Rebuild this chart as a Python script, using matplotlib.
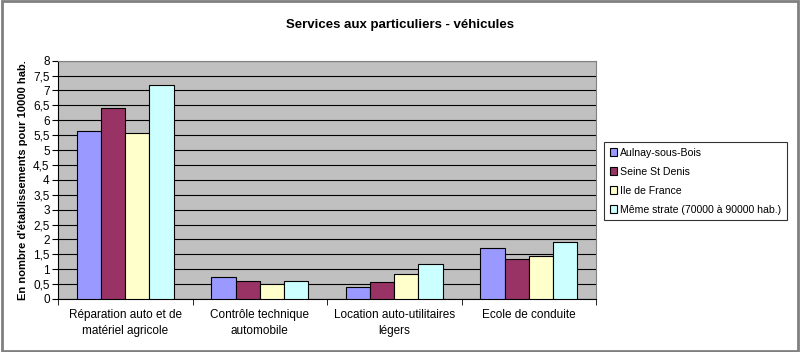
import matplotlib
matplotlib.use("Agg")
import matplotlib.pyplot as plt
from matplotlib.patches import Rectangle
import numpy as np

categories = ["Réparation auto et de\nmatériel agricole", "Contrôle technique\nautomobile",
              "Location auto-utilitaires\nlégers", "Ecole de conduite"]
series_names = ["Aulnay-sous-Bois", "Seine St Denis", "Ile de France", "Même strate (70000 à 90000 hab.)"]
aulnay = [5.64, 0.75, 0.39, 1.72]
seine = [6.42, 0.60, 0.57, 1.33]
idf = [5.58, 0.49, 0.85, 1.44]
meme = [7.20, 0.60, 1.18, 1.90]
colors = ["#9999FF", "#993366", "#FFFFCC", "#CCFFFF"]
yticks = [0, 0.5, 1, 1.5, 2, 2.5, 3, 3.5, 4, 4.5, 5, 5.5, 6, 6.5, 7, 7.5, 8]

plt.rcParams['font.family'] = ['Liberation Sans', 'DejaVu Sans']
fig = plt.figure(figsize=(8, 3.52), dpi=100)
fig.patches.append(Rectangle((0.003, 0.003), 0.994, 0.994, transform=fig.transFigure,
                             fill=False, edgecolor="#808080", linewidth=2))
ax = fig.add_axes([0.0725, 0.1506, 0.6725, 0.677])
ax.set_facecolor("#C0C0C0")
x = np.arange(len(categories))
w = 0.18
for i, (vals, c, n) in enumerate(zip([aulnay, seine, idf, meme], colors, series_names)):
    ax.bar(x + (i - 1.5) * w, vals, w, color=c, edgecolor="black", linewidth=0.8, label=n, zorder=3)
ax.set_xlim(-0.5, 3.5)
ax.set_ylim(0, 8)
ax.set_yticks(yticks)
ax.set_yticklabels([("%g" % v).replace(".", ",") for v in yticks], fontsize=8.5)
ax.yaxis.grid(True, color="black", linewidth=0.8, zorder=0)
ax.set_axisbelow(True)
ax.set_xticks(x)
ax.set_xticklabels(categories, fontsize=8.5, linespacing=1.45)
ax.set_xticks(np.arange(-0.5, 4, 1), minor=True)
ax.tick_params(axis='x', which='major', length=0, pad=7)
ax.tick_params(axis='x', which='minor', length=4)
ax.tick_params(axis='y', length=4, pad=2)
for s in ["top", "right"]:
    ax.spines[s].set_color("#808080")
ax.set_ylabel("En nombre d'établissements pour 10000 hab.", fontsize=8, fontweight="bold")
fig.text(0.5, 0.93, "Services aux particuliers - véhicules", ha="center", va="center",
         fontsize=9.5, fontweight="bold")
leg = fig.legend(loc="upper left", bbox_to_anchor=(0.755, 0.597), fontsize=7.6,
                 frameon=True, fancybox=False, edgecolor="black", handlelength=0.7,
                 handleheight=0.7, handletextpad=0.3, borderpad=0.55, labelspacing=0.85,
                 borderaxespad=0)
leg.get_frame().set_linewidth(0.8)
fig.savefig("out.png", dpi=100)
